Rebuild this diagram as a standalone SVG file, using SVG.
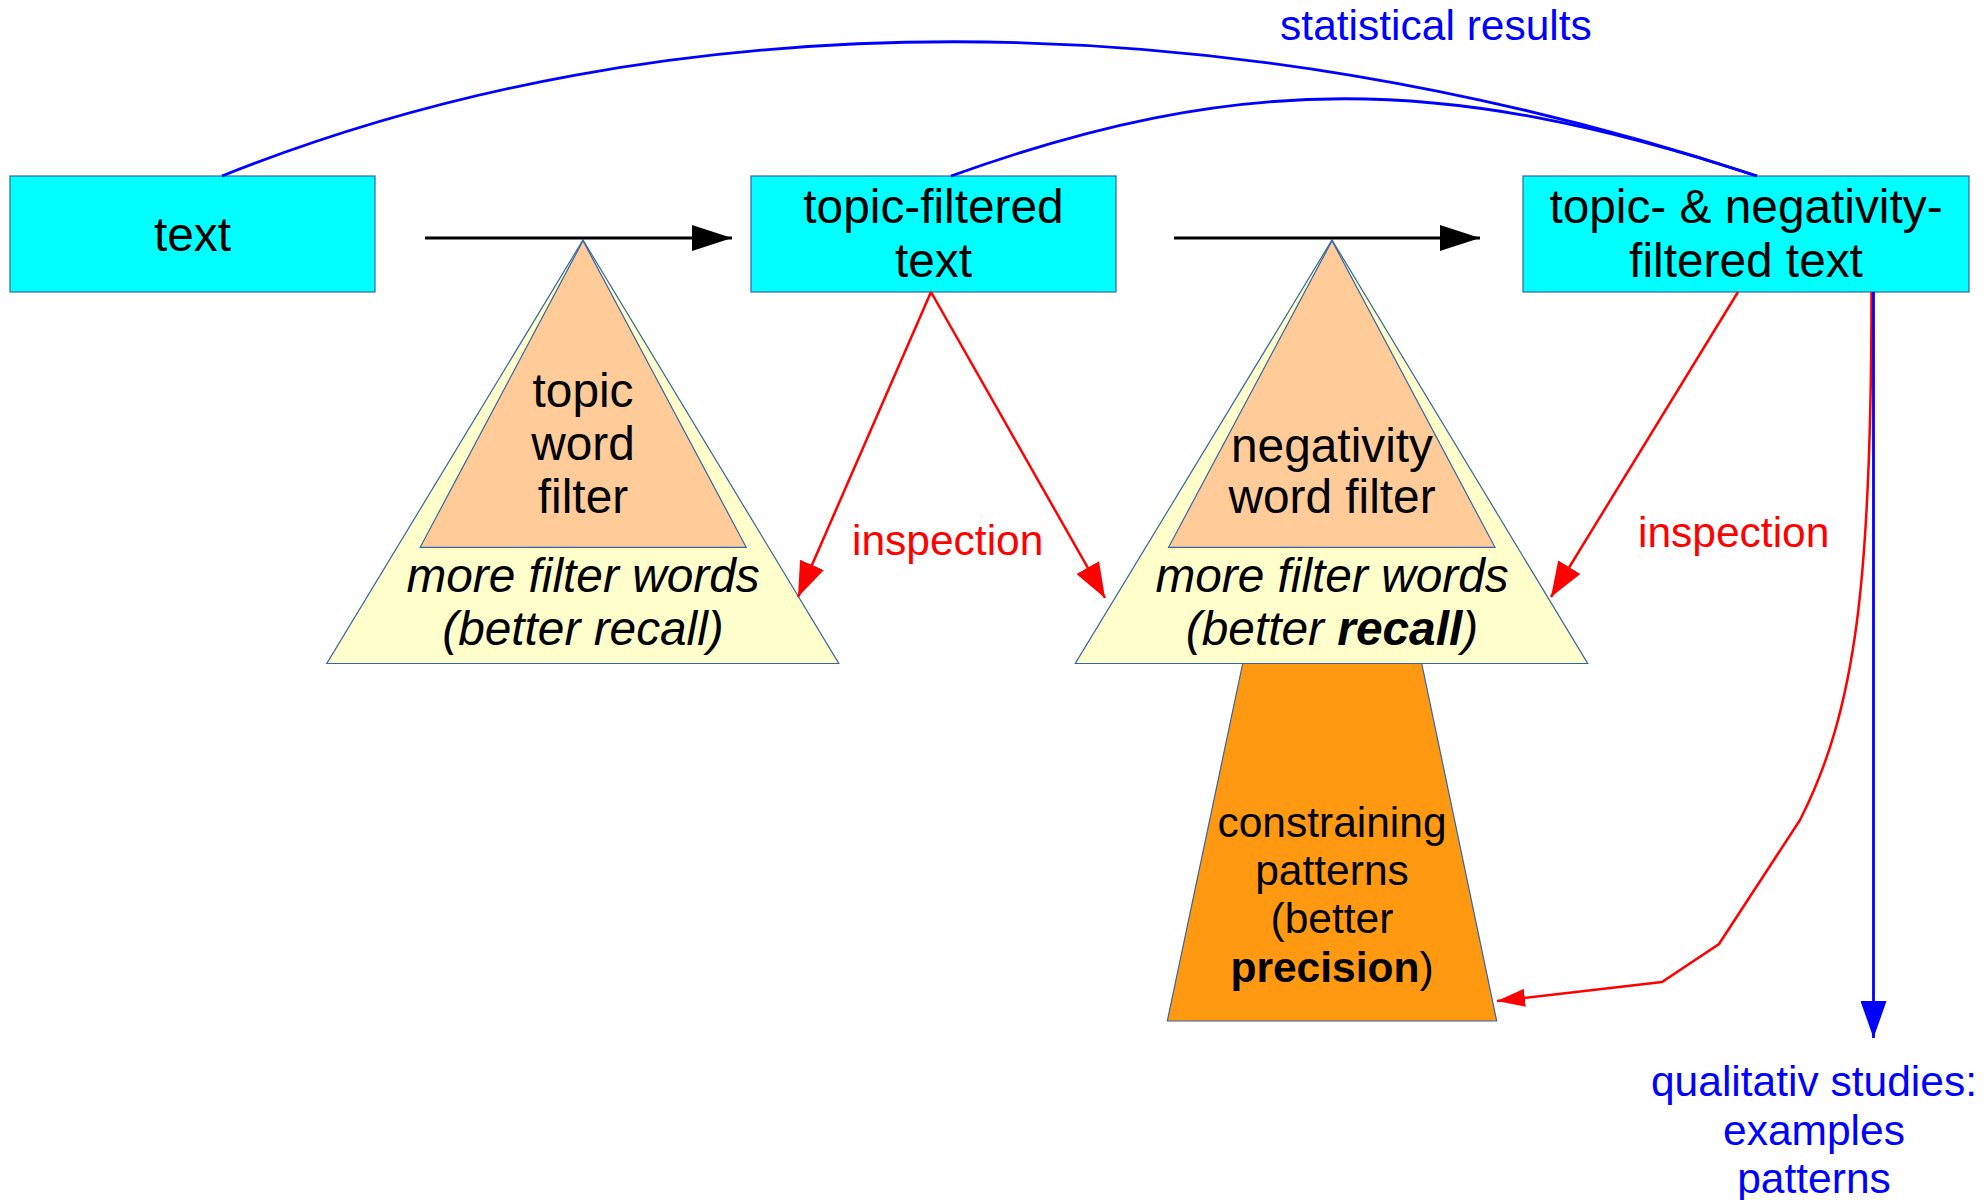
<svg xmlns="http://www.w3.org/2000/svg" width="1987" height="1200" viewBox="0 0 1987 1200">
<style>
.box{fill:#00ffff;stroke:#3465a4;stroke-width:1.2}
.outer{fill:#ffffcc;stroke:#3465a4;stroke-width:1.2}
.inner{fill:#ffcc99;stroke:#3465a4;stroke-width:1.2}
.trap{fill:#ff9912;stroke:#3465a4;stroke-width:1.2}
text{font-family:"Liberation Sans",Arial,sans-serif;text-anchor:middle}
.t47{font-size:47.8px;fill:#000}
.t42{font-size:42.5px;fill:#000}
.it{font-style:italic}
.red{font-size:42.5px;fill:#ff0000;text-anchor:start}
.blue{font-size:42.5px;fill:#0000ff}
.cblk{fill:none;stroke:#000;stroke-width:3}
.cred{fill:none;stroke:#ff0000;stroke-width:2.5}
.cblue{fill:none;stroke:#0000ff;stroke-width:2.8}
</style>
<defs>
<marker id="ahBlack" markerUnits="userSpaceOnUse" orient="auto" markerWidth="40" markerHeight="26" refX="40" refY="13"><path d="M0,0 L40,13 L0,26 z" fill="#000"/></marker>
<marker id="ahRed" markerUnits="userSpaceOnUse" orient="auto" markerWidth="35" markerHeight="26" refX="35" refY="13"><path d="M0,0 L35,13 L0,26 z" fill="#ff0000"/></marker>
<marker id="ahRedSmall" markerUnits="userSpaceOnUse" orient="auto" markerWidth="28" markerHeight="18" refX="28" refY="9"><path d="M0,0 L28,9 L0,18 z" fill="#ff0000"/></marker>
<marker id="ahBlue" markerUnits="userSpaceOnUse" orient="auto" markerWidth="37" markerHeight="26" refX="37" refY="13"><path d="M0,0 L37,13 L0,26 z" fill="#0000ff"/></marker>
</defs>
<rect width="1987" height="1200" fill="#ffffff"/>

<g id="node-text">
<rect class="box" x="10" y="176" width="365" height="116"/>
<text class="t47" x="192.5" y="251">text</text>
</g>
<g id="node-topic-filtered">
<rect class="box" x="751" y="176" width="365" height="116"/>
<text class="t47" x="933.5" y="223">topic-filtered</text>
<text class="t47" x="933.5" y="277">text</text>
</g>
<g id="node-topic-neg-filtered">
<rect class="box" x="1523" y="176" width="446" height="116"/>
<text class="t47" x="1746" y="223">topic- &amp; negativity-</text>
<text class="t47" x="1746" y="277">filtered text</text>
</g>

<g id="node-topic-filter">
<polygon class="outer" points="583,240 838.8,663.5 326.8,663.5"/>
<polygon class="inner" points="583,240.7 746.2,547.3 420.2,547.3"/>
<text class="t47" x="583" y="407">topic</text>
<text class="t47" x="583" y="460">word</text>
<text class="t47" x="583" y="513">filter</text>
<text class="t47 it" x="583" y="592">more filter words</text>
<text class="t47 it" x="583" y="645">(better recall)</text>
</g>

<g id="node-constraining-patterns">
<polygon class="trap" points="1242.7,663.5 1421.7,663.5 1496.7,1021 1167.3,1021"/>
<text class="t42" x="1332" y="837">constraining</text>
<text class="t42" x="1332" y="885">patterns</text>
<text class="t42" x="1332" y="933">(better</text>
<text class="t42" x="1332" y="982"><tspan font-weight="bold">precision</tspan>)</text>
</g>

<g id="node-negativity-filter">
<polygon class="outer" points="1332,240 1587.7,663.5 1075.3,663.5"/>
<polygon class="inner" points="1332,240.7 1495,547.3 1168.6,547.3"/>
<text class="t47" x="1332" y="462">negativity</text>
<text class="t47" x="1332" y="513">word filter</text>
<text class="t47 it" x="1332" y="592">more filter words</text>
<text class="t47 it" x="1332" y="645">(better <tspan font-weight="bold">recall</tspan>)</text>
</g>

<g id="connectors">
<path class="cblk" d="M425,238 L732,238" marker-end="url(#ahBlack)"/>
<path class="cblk" d="M1174,238 L1480,238" marker-end="url(#ahBlack)"/>
<path class="cblue" d="M222,176 C669,-3 1215,-3 1757,176"/>
<path class="cblue" d="M951,176 C1237,73 1445,73 1757,176"/>
<path class="cred" d="M931,292 L798,597" marker-end="url(#ahRed)"/>
<path class="cred" d="M931,292 L1105,598" marker-end="url(#ahRed)"/>
<path class="cred" d="M1738,292 L1551,597" marker-end="url(#ahRed)"/>
<path class="cred" d="M1871.5,292 C1871.5,580 1856,710 1800,820 L1719,944 L1662,982 L1497,1001" marker-end="url(#ahRedSmall)"/>
<path class="cblue" d="M1873.5,292 L1873.5,1038" marker-end="url(#ahBlue)"/>
</g>

<g id="labels">
<text class="blue" x="1436" y="40">statistical results</text>
<text class="red" x="852" y="555">inspection</text>
<text class="red" x="1638" y="547">inspection</text>
<text class="blue" x="1814" y="1096">qualitativ studies:</text>
<text class="blue" x="1814" y="1145">examples</text>
<text class="blue" x="1814" y="1193">patterns</text>
</g>
</svg>
